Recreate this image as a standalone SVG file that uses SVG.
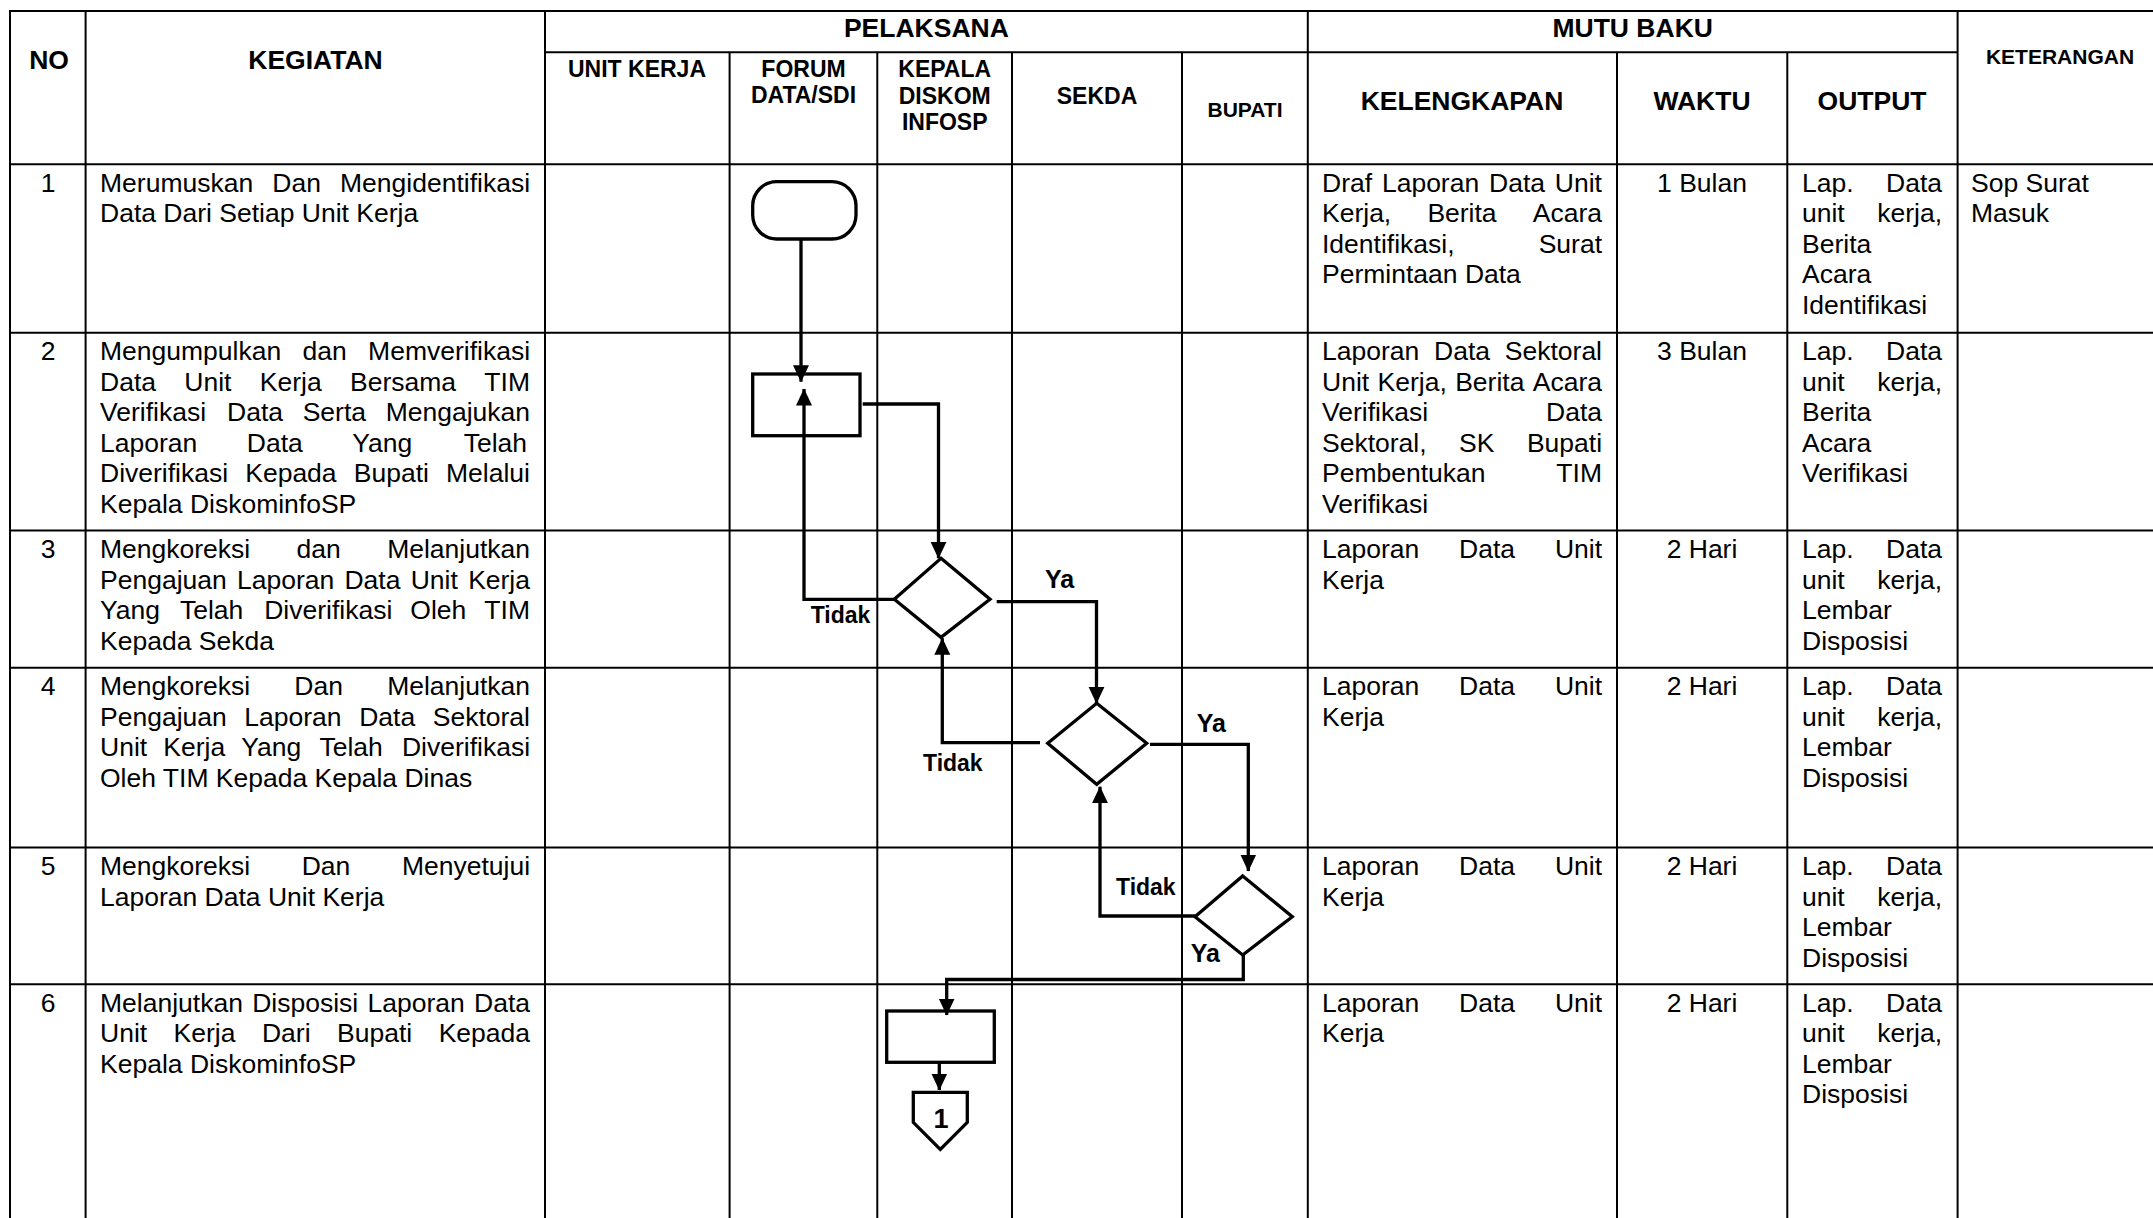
<svg xmlns="http://www.w3.org/2000/svg" width="2153" height="1218" viewBox="0 0 2153 1218">
<style>
.t{font-family:"Liberation Sans",Arial,sans-serif;font-size:26.5px;fill:#000}
.h{font-family:"Liberation Sans",Arial,sans-serif;font-size:26.5px;font-weight:bold;text-anchor:middle;fill:#000}
.s{font-family:"Liberation Sans",Arial,sans-serif;font-size:23px;font-weight:bold;text-anchor:middle;fill:#000}
.xs{font-family:"Liberation Sans",Arial,sans-serif;font-size:21px;font-weight:bold;text-anchor:middle;fill:#000}
.c{text-anchor:middle}
.lbl{font-family:"Liberation Sans",Arial,sans-serif;font-size:23px;font-weight:bold;fill:#000}
.ya{font-size:25px}
.grid line{stroke:#000;stroke-width:2}
.shape{fill:#fff;stroke:#000;stroke-width:3.3}
.conn path{fill:none;stroke:#000;stroke-width:3.3;marker-end:url(#arr)}
</style>
<defs>
<marker id="arr" markerUnits="userSpaceOnUse" markerWidth="17" markerHeight="17" viewBox="0 0 17 17" refX="16.5" refY="8.5" orient="auto">
<path d="M0,0.5 L17,8.5 L0,16.5 z" fill="#000"/>
</marker>
</defs>
<rect x="0" y="0" width="2153" height="1218" fill="#fff"/>

<g id="table" class="grid">
<line x1="9" y1="11" x2="2153" y2="11"/>
<line x1="545" y1="52.3" x2="1957.6" y2="52.3"/>
<line x1="9" y1="164.3" x2="2153" y2="164.3"/>
<line x1="9" y1="332.7" x2="2153" y2="332.7"/>
<line x1="9" y1="530.5" x2="2153" y2="530.5"/>
<line x1="9" y1="667.7" x2="2153" y2="667.7"/>
<line x1="9" y1="847.5" x2="2153" y2="847.5"/>
<line x1="9" y1="984.3" x2="2153" y2="984.3"/>
<line x1="10" y1="10" x2="10" y2="1218"/>
<line x1="85.6" y1="10" x2="85.6" y2="1218"/>
<line x1="545" y1="10" x2="545" y2="1218"/>
<line x1="729.6" y1="52.3" x2="729.6" y2="1218"/>
<line x1="877.3" y1="52.3" x2="877.3" y2="1218"/>
<line x1="1012" y1="52.3" x2="1012" y2="1218"/>
<line x1="1182" y1="52.3" x2="1182" y2="1218"/>
<line x1="1307.8" y1="10" x2="1307.8" y2="1218"/>
<line x1="1617" y1="52.3" x2="1617" y2="1218"/>
<line x1="1787.3" y1="52.3" x2="1787.3" y2="1218"/>
<line x1="1957.6" y1="10" x2="1957.6" y2="1218"/>
</g>

<g id="header">
<text class="h" x="49" y="68.5">NO</text>
<text class="h" x="315.5" y="68.5">KEGIATAN</text>
<text class="h" x="926.4" y="37">PELAKSANA</text>
<text class="h" x="1632.7" y="37">MUTU BAKU</text>
<text class="xs" x="2060" y="63.5">KETERANGAN</text>
<text class="s" x="637" y="77">UNIT KERJA</text>
<text class="s" x="803.5" y="77">FORUM</text>
<text class="s" x="803.5" y="103">DATA/SDI</text>
<text class="s" x="944.7" y="77">KEPALA</text>
<text class="s" x="944.7" y="103.5">DISKOM</text>
<text class="s" x="944.7" y="130">INFOSP</text>
<text class="s" x="1097" y="104">SEKDA</text>
<text class="xs" x="1245" y="117">BUPATI</text>
<text class="h" x="1462" y="110">KELENGKAPAN</text>
<text class="h" x="1702" y="110">WAKTU</text>
<text class="h" x="1872" y="110">OUTPUT</text>
</g>

<g id="row1">
<text class="t c" x="48" y="191.8">1</text>
<text class="t" y="191.8"><tspan x="100">Merumuskan</tspan><tspan x="272.28">Dan</tspan><tspan x="340.02">Mengidentifikasi</tspan></text>
<text class="t" x="100" y="222.3">Data Dari Setiap Unit Kerja</text>
<text class="t" y="191.8"><tspan x="1322">Draf</tspan><tspan x="1381.93">Laporan</tspan><tspan x="1489.03">Data</tspan><tspan x="1554.87">Unit</tspan></text>
<text class="t" y="222.3"><tspan x="1322">Kerja,</tspan><tspan x="1427.39">Berita</tspan><tspan x="1532.78">Acara</tspan></text>
<text class="t" y="252.8"><tspan x="1322">Identifikasi,</tspan><tspan x="1538.66">Surat</tspan></text>
<text class="t" x="1322" y="283.3">Permintaan Data</text>
<text class="t c" x="1702" y="191.8">1 Bulan</text>
<text class="t" y="191.8"><tspan x="1802">Lap.</tspan><tspan x="1886.03">Data</tspan></text>
<text class="t" y="222.3"><tspan x="1802">unit</tspan><tspan x="1877.21">kerja,</tspan></text>
<text class="t" x="1802" y="252.8">Berita</text>
<text class="t" x="1802" y="283.3">Acara</text>
<text class="t" x="1802" y="313.8">Identifikasi</text>
<text class="t" x="1971" y="191.8">Sop Surat</text>
<text class="t" x="1971" y="222.3">Masuk</text>
</g>

<g id="row2">
<text class="t c" x="48" y="360.2">2</text>
<text class="t" y="360.2"><tspan x="100">Mengumpulkan</tspan><tspan x="302.51">dan</tspan><tspan x="368.07">Memverifikasi</tspan></text>
<text class="t" y="390.7"><tspan x="100">Data</tspan><tspan x="184.32">Unit</tspan><tspan x="259.79">Kerja</tspan><tspan x="349.99">Bersama</tspan><tspan x="484.37">TIM</tspan></text>
<text class="t" y="421.2"><tspan x="100">Verifikasi</tspan><tspan x="227.1">Data</tspan><tspan x="302.69">Serta</tspan><tspan x="385.65">Mengajukan</tspan></text>
<text class="t" y="451.7"><tspan x="100">Laporan</tspan><tspan x="246.78">Data</tspan><tspan x="352.3">Yang</tspan><tspan x="463.73">Telah</tspan></text>
<text class="t" y="482.2"><tspan x="100">Diverifikasi</tspan><tspan x="245.24">Kepada</tspan><tspan x="353.76">Bupati</tspan><tspan x="446.06">Melalui</tspan></text>
<text class="t" x="100" y="512.7">Kepala DiskominfoSP</text>
<text class="t" y="360.2"><tspan x="1322">Laporan</tspan><tspan x="1434.03">Data</tspan><tspan x="1504.8">Sektoral</tspan></text>
<text class="t" y="390.7"><tspan x="1322">Unit</tspan><tspan x="1377.53">Kerja,</tspan><tspan x="1455.16">Berita</tspan><tspan x="1532.79">Acara</tspan></text>
<text class="t" y="421.2"><tspan x="1322">Verifikasi</tspan><tspan x="1546.03">Data</tspan></text>
<text class="t" y="451.7"><tspan x="1322">Sektoral,</tspan><tspan x="1459.05">SK</tspan><tspan x="1526.88">Bupati</tspan></text>
<text class="t" y="482.2"><tspan x="1322">Pembentukan</tspan><tspan x="1556.37">TIM</tspan></text>
<text class="t" x="1322" y="512.7">Verifikasi</text>
<text class="t c" x="1702" y="360.2">3 Bulan</text>
<text class="t" y="360.2"><tspan x="1802">Lap.</tspan><tspan x="1886.03">Data</tspan></text>
<text class="t" y="390.7"><tspan x="1802">unit</tspan><tspan x="1877.21">kerja,</tspan></text>
<text class="t" x="1802" y="421.2">Berita</text>
<text class="t" x="1802" y="451.7">Acara</text>
<text class="t" x="1802" y="482.2">Verifikasi</text>
</g>

<g id="row3">
<text class="t c" x="48" y="558">3</text>
<text class="t" y="558"><tspan x="100">Mengkoreksi</tspan><tspan x="296.57">dan</tspan><tspan x="387.14">Melanjutkan</tspan></text>
<text class="t" y="588.5"><tspan x="100">Pengajuan</tspan><tspan x="236.98">Laporan</tspan><tspan x="344.49">Data</tspan><tspan x="410.74">Unit</tspan><tspan x="468.14">Kerja</tspan></text>
<text class="t" y="619"><tspan x="100">Yang</tspan><tspan x="179.92">Telah</tspan><tspan x="264.24">Diverifikasi</tspan><tspan x="410.35">Oleh</tspan><tspan x="484.36">TIM</tspan></text>
<text class="t" x="100" y="649.5">Kepada Sekda</text>
<text class="t" y="558"><tspan x="1322">Laporan</tspan><tspan x="1459.07">Data</tspan><tspan x="1554.88">Unit</tspan></text>
<text class="t" x="1322" y="588.5">Kerja</text>
<text class="t c" x="1702" y="558">2 Hari</text>
<text class="t" y="558"><tspan x="1802">Lap.</tspan><tspan x="1886.03">Data</tspan></text>
<text class="t" y="588.5"><tspan x="1802">unit</tspan><tspan x="1877.21">kerja,</tspan></text>
<text class="t" x="1802" y="619">Lembar</text>
<text class="t" x="1802" y="649.5">Disposisi</text>
</g>

<g id="row4">
<text class="t c" x="48" y="695.2">4</text>
<text class="t" y="695.2"><tspan x="100">Mengkoreksi</tspan><tspan x="294.37">Dan</tspan><tspan x="387.14">Melanjutkan</tspan></text>
<text class="t" y="725.7"><tspan x="100">Pengajuan</tspan><tspan x="244.33">Laporan</tspan><tspan x="359.19">Data</tspan><tspan x="432.79">Sektoral</tspan></text>
<text class="t" y="756.2"><tspan x="100">Unit</tspan><tspan x="163.32">Kerja</tspan><tspan x="241.37">Yang</tspan><tspan x="319.45">Telah</tspan><tspan x="401.93">Diverifikasi</tspan></text>
<text class="t" x="100" y="786.7">Oleh TIM Kepada Kepala Dinas</text>
<text class="t" y="695.2"><tspan x="1322">Laporan</tspan><tspan x="1459.07">Data</tspan><tspan x="1554.88">Unit</tspan></text>
<text class="t" x="1322" y="725.7">Kerja</text>
<text class="t c" x="1702" y="695.2">2 Hari</text>
<text class="t" y="695.2"><tspan x="1802">Lap.</tspan><tspan x="1886.03">Data</tspan></text>
<text class="t" y="725.7"><tspan x="1802">unit</tspan><tspan x="1877.21">kerja,</tspan></text>
<text class="t" x="1802" y="756.2">Lembar</text>
<text class="t" x="1802" y="786.7">Disposisi</text>
</g>

<g id="row5">
<text class="t c" x="48" y="875">5</text>
<text class="t" y="875"><tspan x="100">Mengkoreksi</tspan><tspan x="301.74">Dan</tspan><tspan x="401.88">Menyetujui</tspan></text>
<text class="t" x="100" y="905.5">Laporan Data Unit Kerja</text>
<text class="t" y="875"><tspan x="1322">Laporan</tspan><tspan x="1459.07">Data</tspan><tspan x="1554.88">Unit</tspan></text>
<text class="t" x="1322" y="905.5">Kerja</text>
<text class="t c" x="1702" y="875">2 Hari</text>
<text class="t" y="875"><tspan x="1802">Lap.</tspan><tspan x="1886.03">Data</tspan></text>
<text class="t" y="905.5"><tspan x="1802">unit</tspan><tspan x="1877.21">kerja,</tspan></text>
<text class="t" x="1802" y="936">Lembar</text>
<text class="t" x="1802" y="966.5">Disposisi</text>
</g>

<g id="row6">
<text class="t c" x="48" y="1011.8">6</text>
<text class="t" y="1011.8"><tspan x="100">Melanjutkan</tspan><tspan x="252.17">Disposisi</tspan><tspan x="367.48">Laporan</tspan><tspan x="474.02">Data</tspan></text>
<text class="t" y="1042.3"><tspan x="100">Unit</tspan><tspan x="173.62">Kerja</tspan><tspan x="261.97">Dari</tspan><tspan x="337.04">Bupati</tspan><tspan x="438.67">Kepada</tspan></text>
<text class="t" x="100" y="1072.8">Kepala DiskominfoSP</text>
<text class="t" y="1011.8"><tspan x="1322">Laporan</tspan><tspan x="1459.07">Data</tspan><tspan x="1554.88">Unit</tspan></text>
<text class="t" x="1322" y="1042.3">Kerja</text>
<text class="t c" x="1702" y="1011.8">2 Hari</text>
<text class="t" y="1011.8"><tspan x="1802">Lap.</tspan><tspan x="1886.03">Data</tspan></text>
<text class="t" y="1042.3"><tspan x="1802">unit</tspan><tspan x="1877.21">kerja,</tspan></text>
<text class="t" x="1802" y="1072.8">Lembar</text>
<text class="t" x="1802" y="1103.3">Disposisi</text>
</g>

<g id="connectors" class="conn">
<path d="M801,239 V381.7"/>
<path d="M862.7,404 H938.5 V558.3"/>
<path d="M894.3,599.3 H804 V389"/>
<path d="M996.7,601.7 H1096.5 V703.3"/>
<path d="M1040,742.7 H942.3 V638.3"/>
<path d="M1150,744.3 H1248.3 V871"/>
<path d="M1195,916 H1100 V786.7"/>
<path d="M1243.3,955 V979.5 H946.7 V1015"/>
<path d="M939.3,1062.3 V1090"/>
</g>

<g id="start"><rect class="shape" x="752.7" y="181.7" width="103.3" height="57.3" rx="24" ry="24"/></g>
<g id="proc1"><rect class="shape" x="752.7" y="374" width="107.3" height="61.7" fill-opacity="0"/></g>
<g id="dec1"><polygon class="shape" points="941,558.3 990,599.3 941,637.3 894.3,599.3" fill-opacity="0"/></g>
<g id="dec2"><polygon class="shape" points="1096.7,703.3 1146.7,743.3 1096.7,784.3 1047.7,743.3" fill-opacity="0"/></g>
<g id="dec3"><polygon class="shape" points="1242.7,876 1292.3,916.7 1242.7,955 1195,916.7" fill-opacity="0"/></g>
<g id="proc2"><rect class="shape" x="886.7" y="1011" width="107.6" height="51.3" fill-opacity="0"/></g>
<g id="offpage"><polygon class="shape" points="913.3,1092.3 967.3,1092.3 967.3,1122.3 940.3,1149.3 913.3,1122.3"/><text class="lbl" x="941" y="1128.3" text-anchor="middle" style="font-size:27px">1</text></g>

<g id="labels">
<text class="lbl" x="810.7" y="623.3">Tidak</text>
<text class="lbl ya" x="1045" y="588.3">Ya</text>
<text class="lbl" x="923" y="771">Tidak</text>
<text class="lbl ya" x="1196.7" y="732.3">Ya</text>
<text class="lbl" x="1116" y="895">Tidak</text>
<text class="lbl ya" x="1190.7" y="961.7">Ya</text>
</g>
</svg>
